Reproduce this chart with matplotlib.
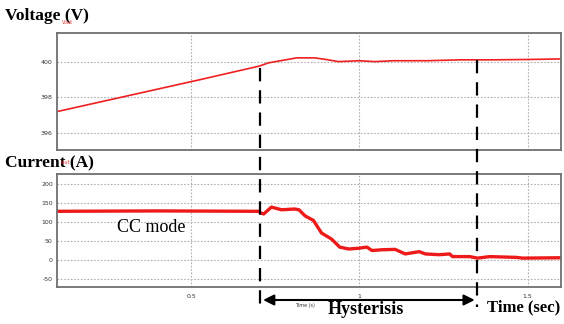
import matplotlib.pyplot as plt
from matplotlib.patches import FancyArrowPatch

plt.rcParams["axes.unicode_minus"] = False

# Voltage trace (s, V)
t_v = [0.10, 0.528, 0.702, 0.729, 0.813, 0.867, 0.90, 0.938, 0.998, 1.046, 1.10, 1.20, 1.30, 1.40, 1.50, 1.60]
v = [397.2, 399.0, 399.75, 399.93, 400.21, 400.21, 400.12, 400.0, 400.05, 400.0, 400.05, 400.05, 400.1, 400.1, 400.12, 400.15]

# Current trace (s, A)
t_i = [0.10, 0.40, 0.70, 0.705, 0.715, 0.738, 0.768, 0.807, 0.82, 0.838, 0.863, 0.887, 0.917,
       0.941, 0.968, 0.998, 1.022, 1.037, 1.067, 1.106, 1.136, 1.178, 1.196, 1.238, 1.268,
       1.277, 1.328, 1.351, 1.387, 1.465, 1.486, 1.60]
i = [128, 129, 128, 124, 121, 139, 132, 134, 132, 116, 104, 71, 55,
     34, 29, 31, 34, 25, 27, 28, 16, 22, 16, 14, 16,
     9, 9, 5, 9, 7, 5, 6]

x_ticks = [0.5, 1.0, 1.5]
x_tick_labels = ["0.5", "1", "1.5"]
v_ticks = [396, 398, 400]
i_ticks = [-50, 0, 50, 100, 150, 200]
t_marks = [0.705, 1.351]

fig = plt.figure(figsize=(5.64, 3.24), dpi=100)
ax1 = fig.add_axes([0.101, 0.537, 0.894, 0.361])
ax2 = fig.add_axes([0.101, 0.114, 0.894, 0.349])

for ax in (ax1, ax2):
    ax.set_xlim(0.1, 1.6)
    ax.set_xticks(x_ticks)
    ax.grid(True, linestyle=(0, (1.5, 1.5)), color="#b0b0b0", linewidth=0.8)
    ax.tick_params(length=0, labelsize=4.5, colors="#333333", pad=3)
    ax.tick_params(axis="x", pad=5)
    for s in ax.spines.values():
        s.set_color("#707070")
        s.set_linewidth(1.3)

ax1.plot(t_v, v, color="#ee2020", lw=1.2)
ax1.set_ylim(395.05, 401.6)
ax1.set_yticks(v_ticks)
ax1.set_xticklabels([])

ax2.plot(t_i, i, color="#ee1a1a", lw=2.4)
ax2.set_ylim(-71, 226)
ax2.set_yticks(i_ticks)
ax2.set_xticklabels(x_tick_labels)

# dashed markers spanning both panels (figure coords)
def fx(t):
    return 0.101 + (t - 0.1) / 1.5 * 0.894

for t, ytop in zip(t_marks, [1 - 68 / 324, 1 - 60 / 324]):
    fig.add_artist(plt.Line2D([fx(t), fx(t)], [ytop, 1 - 307 / 324], color="black",
                              lw=1.6, linestyle=(0, (6, 4))))

arrow = FancyArrowPatch((fx(t_marks[0]), 1 - 300 / 324), (fx(t_marks[1]), 1 - 300 / 324),
                        transform=fig.transFigure, arrowstyle="<|-|>", mutation_scale=16,
                        color="black", lw=1.5)
fig.add_artist(arrow)

serif = "Liberation Serif"
fig.text(0.009, 1 - 16 / 324, "Voltage (V)", fontsize=12.5, fontweight="bold", family=serif, va="center")
fig.text(0.009, 1 - 163 / 324, "Current (A)", fontsize=12.5, fontweight="bold", family=serif, va="center")
fig.text(0.110, 1 - 23 / 324, "Vout", fontsize=3.5, color="#ee3030", va="center")
fig.text(0.107, 1 - 163 / 324, "Iout", fontsize=3.5, color="#ee3030", va="center")
fig.text(117 / 564, 1 - 228 / 324, "CC mode", fontsize=13, family=serif, va="center")
fig.text(366 / 564, 1 - 310 / 324, "Hysterisis", fontsize=13, fontweight="bold", family=serif,
         va="center", ha="center")
fig.text(560 / 564, 1 - 307 / 324, "Time (sec)", fontsize=12, fontweight="bold", family=serif,
         va="center", ha="right")
fig.text(305 / 564, 1 - 306 / 324, "Time (s)", fontsize=3.5, color="#333333", va="center", ha="center")

fig.savefig("out.png", dpi=100)
